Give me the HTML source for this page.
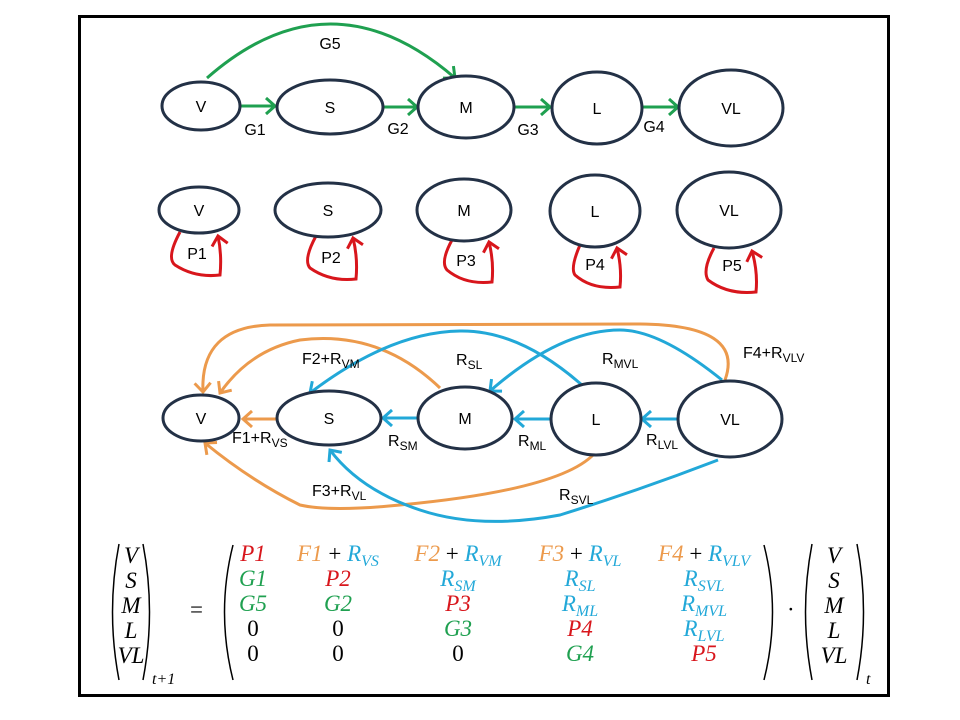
<!DOCTYPE html>
<html><head><meta charset="utf-8"><style>
body{margin:0;background:#fff}
svg{display:block}
text{font-family:"Liberation Sans",sans-serif;font-size:16px}
.m text{font-family:"Liberation Serif",serif;font-style:italic;font-size:23px}
</style></head><body>
<svg width="960" height="720" viewBox="0 0 960 720" xmlns="http://www.w3.org/2000/svg">
<defs>
<marker id="ag" viewBox="0 0 10 10" refX="9" refY="5" markerWidth="10" markerHeight="10" orient="auto" markerUnits="userSpaceOnUse" style="overflow:visible"><path d="M0,-3 L9,5 L0,13" fill="none" stroke="#1fa050" stroke-width="3"/></marker>
<marker id="ar" viewBox="0 0 10 10" refX="9" refY="5" markerWidth="10" markerHeight="10" orient="auto" markerUnits="userSpaceOnUse" style="overflow:visible"><path d="M0,-3 L9,5 L0,13" fill="none" stroke="#d8161c" stroke-width="3"/></marker>
<marker id="ao" viewBox="0 0 10 10" refX="9" refY="5" markerWidth="10" markerHeight="10" orient="auto" markerUnits="userSpaceOnUse" style="overflow:visible"><path d="M0,-3 L9,5 L0,13" fill="none" stroke="#ec9a4c" stroke-width="3"/></marker>
<marker id="ab" viewBox="0 0 10 10" refX="9" refY="5" markerWidth="10" markerHeight="10" orient="auto" markerUnits="userSpaceOnUse" style="overflow:visible"><path d="M0,-3 L9,5 L0,13" fill="none" stroke="#22a8d8" stroke-width="3"/></marker>
</defs>
<rect x="79.5" y="16.5" width="809" height="679" fill="#fff" stroke="#000" stroke-width="3"/>

<g fill="none" stroke="#1fa050" stroke-width="3">
<path d="M207,78 Q330,-30 455,78" marker-end="url(#ag)"/>
<line x1="240" y1="106" x2="275" y2="106" marker-end="url(#ag)"/>
<line x1="383" y1="107" x2="417" y2="107" marker-end="url(#ag)"/>
<line x1="514" y1="107" x2="550" y2="107" marker-end="url(#ag)"/>
<line x1="643" y1="107" x2="678" y2="107" marker-end="url(#ag)"/>
</g>
<g fill="none" stroke="#d8161c" stroke-width="3">
<path d="M180,232 Q166,258 175,265 Q195,278 220,275 Q222,255 218,236" marker-end="url(#ar)"/>
<path d="M316,236 Q303,260 310,268 Q330,282 356,279 Q358,258 353,238" marker-end="url(#ar)"/>
<path d="M452,240 Q440,262 447,270 Q465,285 492,282 Q494,262 489,242" marker-end="url(#ar)"/>
<path d="M580,245 Q570,268 575,275 Q592,290 620,287 Q622,268 617,248" marker-end="url(#ar)"/>
<path d="M714,248 Q702,270 708,280 Q728,295 756,292 Q758,272 752,251" marker-end="url(#ar)"/>
</g>

<g fill="none" stroke="#ec9a4c" stroke-width="3">
<path d="M725,380 Q745,325 640,324 L270,325 Q200,327 203,392" marker-end="url(#ao)"/>
<path d="M440,388 Q380,330 300,340 Q250,350 220,393" marker-end="url(#ao)"/>
<line x1="276" y1="419" x2="243" y2="419" marker-end="url(#ao)"/>
<path d="M594,454 Q560,490 400,505 Q330,512 300,505 Q250,480 205,443" marker-end="url(#ao)"/>
</g>
<g fill="none" stroke="#22a8d8" stroke-width="3">
<path d="M583,386 Q520,330 460,331 Q390,332 310,393" marker-end="url(#ab)"/>
<path d="M722,380 Q660,330 620,330 Q560,330 490,391" marker-end="url(#ab)"/>
<line x1="417" y1="418" x2="383" y2="418" marker-end="url(#ab)"/>
<line x1="552" y1="419" x2="515" y2="419" marker-end="url(#ab)"/>
<line x1="678" y1="419" x2="642" y2="419" marker-end="url(#ab)"/>
<path d="M718,460 Q640,490 560,515 Q480,530 420,510 Q360,490 330,450" marker-end="url(#ab)"/>
</g>

<g fill="#fff" stroke="#233146" stroke-width="3">
<ellipse cx="201" cy="106" rx="39" ry="24"/><ellipse cx="330" cy="107" rx="53" ry="27"/><ellipse cx="466" cy="107" rx="48" ry="31"/><ellipse cx="597" cy="108" rx="45" ry="36"/><ellipse cx="731" cy="108" rx="52" ry="38"/>
<ellipse cx="199" cy="210" rx="40" ry="23"/><ellipse cx="328" cy="210" rx="53" ry="27"/><ellipse cx="464" cy="210" rx="47" ry="31"/><ellipse cx="595" cy="211" rx="45" ry="36"/><ellipse cx="729" cy="210" rx="52" ry="38"/>
<ellipse cx="201" cy="418" rx="38" ry="23"/><ellipse cx="329" cy="418" rx="52" ry="27"/><ellipse cx="465" cy="418" rx="47" ry="31"/><ellipse cx="596" cy="419" rx="45" ry="36"/><ellipse cx="730" cy="419" rx="52" ry="38"/>
</g>
<g text-anchor="middle" fill="#000">
<text x="201" y="112">V</text><text x="330" y="113">S</text><text x="466" y="113">M</text><text x="597" y="114">L</text><text x="731" y="114">VL</text>
<text x="199" y="216">V</text><text x="328" y="216">S</text><text x="464" y="216">M</text><text x="595" y="217">L</text><text x="729" y="216">VL</text>
<text x="201" y="424">V</text><text x="329" y="424">S</text><text x="465" y="424">M</text><text x="596" y="425">L</text><text x="730" y="425">VL</text>
<text x="255" y="135">G1</text><text x="398" y="134">G2</text><text x="528" y="135">G3</text><text x="654" y="132">G4</text><text x="330" y="49">G5</text>
<text x="197" y="259">P1</text><text x="331" y="263">P2</text><text x="466" y="266">P3</text><text x="595" y="270">P4</text><text x="732" y="271">P5</text>
</g>
<g fill="#000">
<text x="302" y="364">F2+R<tspan font-size="12" dy="4">VM</tspan></text>
<text x="456" y="365">R<tspan font-size="12" dy="4">SL</tspan></text>
<text x="602" y="364">R<tspan font-size="12" dy="4">MVL</tspan></text>
<text x="743" y="358">F4+R<tspan font-size="12" dy="4">VLV</tspan></text>
<text x="232" y="443">F1+R<tspan font-size="12" dy="4">VS</tspan></text>
<text x="388" y="446">R<tspan font-size="12" dy="4">SM</tspan></text>
<text x="518" y="446">R<tspan font-size="12" dy="4">ML</tspan></text>
<text x="646" y="445">R<tspan font-size="12" dy="4">LVL</tspan></text>
<text x="312" y="496">F3+R<tspan font-size="12" dy="4">VL</tspan></text>
<text x="559" y="500">R<tspan font-size="12" dy="4">SVL</tspan></text>
</g>

<g class="m" fill="#000">
<g fill="none" stroke="#000" stroke-width="1.5">
<path d="M119,544 Q106,612 119,680"/><path d="M143,544 Q156,612 143,680"/>
<path d="M233,545 Q216,612 233,680"/><path d="M764,545 Q781,612 764,680"/>
<path d="M812,544 Q799,612 812,680"/><path d="M857,544 Q870,612 857,680"/>
</g>
<g text-anchor="middle">
<text x="131" y="563">V</text><text x="131" y="588">S</text><text x="131" y="613">M</text><text x="131" y="638">L</text><text x="131" y="663">VL</text>
<text x="834" y="563">V</text><text x="834" y="588">S</text><text x="834" y="613">M</text><text x="834" y="638">L</text><text x="834" y="663">VL</text>
</g>
<text x="152" y="684" style="font-size:16px">t+1</text>
<text x="866" y="684" style="font-size:16px">t</text>
<text x="190" y="617" style="font-style:normal">=</text>
<text x="787" y="617" style="font-style:normal">·</text>
<g text-anchor="middle">
<text x="253" y="561" fill="#d8161c">P1</text>
<text x="338" y="561"><tspan fill="#ec9a4c">F1</tspan><tspan style="font-style:normal"> + </tspan><tspan fill="#22a8d8">R<tspan style="font-size:16px" dy="5">VS</tspan></tspan></text>
<text x="458" y="561"><tspan fill="#ec9a4c">F2</tspan><tspan style="font-style:normal"> + </tspan><tspan fill="#22a8d8">R<tspan style="font-size:16px" dy="5">VM</tspan></tspan></text>
<text x="580" y="561"><tspan fill="#ec9a4c">F3</tspan><tspan style="font-style:normal"> + </tspan><tspan fill="#22a8d8">R<tspan style="font-size:16px" dy="5">VL</tspan></tspan></text>
<text x="704" y="561"><tspan fill="#ec9a4c">F4</tspan><tspan style="font-style:normal"> + </tspan><tspan fill="#22a8d8">R<tspan style="font-size:16px" dy="5">VLV</tspan></tspan></text>
<text x="253" y="586" fill="#1fa050">G1</text><text x="338" y="586" fill="#d8161c">P2</text>
<text x="458" y="586" fill="#22a8d8">R<tspan style="font-size:16px" dy="5">SM</tspan></text>
<text x="580" y="586" fill="#22a8d8">R<tspan style="font-size:16px" dy="5">SL</tspan></text>
<text x="704" y="586" fill="#22a8d8">R<tspan style="font-size:16px" dy="5">SVL</tspan></text>
<text x="253" y="611" fill="#1fa050">G5</text><text x="338" y="611" fill="#1fa050">G2</text><text x="458" y="611" fill="#d8161c">P3</text>
<text x="580" y="611" fill="#22a8d8">R<tspan style="font-size:16px" dy="5">ML</tspan></text>
<text x="704" y="611" fill="#22a8d8">R<tspan style="font-size:16px" dy="5">MVL</tspan></text>
<text x="253" y="636" style="font-style:normal">0</text><text x="338" y="636" style="font-style:normal">0</text><text x="458" y="636" fill="#1fa050">G3</text><text x="580" y="636" fill="#d8161c">P4</text>
<text x="704" y="636" fill="#22a8d8">R<tspan style="font-size:16px" dy="5">LVL</tspan></text>
<text x="253" y="661" style="font-style:normal">0</text><text x="338" y="661" style="font-style:normal">0</text><text x="458" y="661" style="font-style:normal">0</text><text x="580" y="661" fill="#1fa050">G4</text><text x="704" y="661" fill="#d8161c">P5</text>
</g>
</g>
</svg>
</body></html>
